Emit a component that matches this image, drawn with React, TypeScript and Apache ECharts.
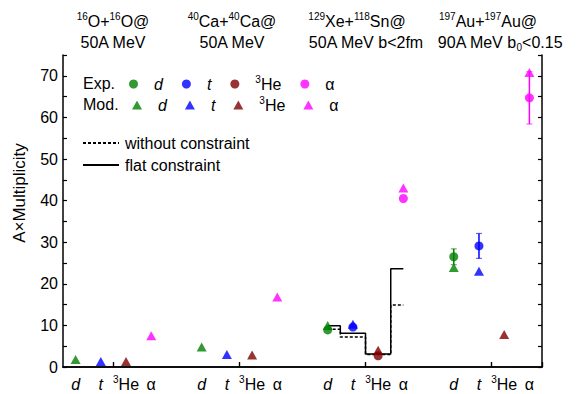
import React, { useEffect, useRef } from 'react';
import * as echarts from 'echarts';

const FONT = '"Liberation Sans", Arial, Helvetica, sans-serif';

// 19 category slots: 4 reaction systems x 4 species, separated by empty slots
const categories = ['d', 't', '3He', 'α', '', 'd', 't', '3He', 'α', '', 'd', 't', '3He', 'α', '', 'd', 't', '3He', 'α'];
const groupStart = [0, 5, 10, 15];
const tickSlots = [2, 7, 12, 17];

// Top labels (reaction systems)
const reactionLine1 = [
  '{s|16}{n|O+}{s|16}{n|O@}',
  '{s|40}{n|Ca+}{s|40}{n|Ca@}',
  '{s|129}{n|Xe+}{s|118}{n|Sn@}',
  '{s|197}{n|Au+}{s|197}{n|Au@}',
];
const reactionLine2 = ['{n|50A MeV}', '{n|50A MeV}', '{n|50A MeV b<2fm}', '{n|90A MeV b}{b|0}{n|<0.15}'];

// Model values per system (O+O, Ca+Ca, Xe+Sn, Au+Au)
const modD = [1.8, 4.8, 10.0, 23.9];
const modT = [1.3, 3.0, 10.3, 23.0];
const modHe3 = [1.3, 2.9, 4.0, 7.8];
const modAlpha = [7.5, 16.8, 43.0, 70.8];

// Experimental values per system
const expD = [null, null, 8.9, 26.5];
const expT = [null, null, 9.6, 29.1];
const expHe3 = [null, null, 2.7, null];
const expAlpha = [null, null, 40.5, 64.7];
const expDErr = [null, null, null, 1.9];
const expTErr = [null, null, null, 3.0];
const expAlphaErr = [null, null, null, 6.3];

// Step curves for Xe+Sn (d, t, 3He, α)
const flatConstraint = [9.9, 8.1, 3.1, 23.6];
const withoutConstraint = [9.1, 7.2, 3.0, 14.9];

const GREEN = '#008000';
const BLUE = '#0000ff';
const MAROON = '#800000';
const MAGENTA = '#ff00ff';

function pts(values: (number | null)[], sp: number) {
  const out: number[][] = [];
  values.forEach((v, g) => {
    if (v != null) out.push([groupStart[g] + sp, v]);
  });
  return out;
}

function errs(values: (number | null)[], errors: (number | null)[], sp: number, color: string) {
  const out: any[] = [];
  values.forEach((v, g) => {
    const e = errors[g];
    if (v != null && e != null) out.push({ value: [groupStart[g] + sp, v - e, v + e], itemStyle: { color } });
  });
  return out;
}

const richBase = {
  n: { fontSize: 16, fontFamily: FONT, color: '#000', lineHeight: 20 },
  it: { fontSize: 16, fontFamily: FONT, color: '#000', fontStyle: 'italic', lineHeight: 20 },
  s: { fontSize: 10, fontFamily: FONT, color: '#000', verticalAlign: 'top', lineHeight: 12 },
  b: { fontSize: 10, fontFamily: FONT, color: '#000', verticalAlign: 'bottom', lineHeight: 10 },
};

function speciesRich(name: string) {
  if (name === 'd' || name === 't') return '{it|' + name + '}';
  if (name === '3He') return '{s|3}{n|He}';
  if (name === 'α') return '{n|α}';
  return '';
}

export default function App() {
  const ref = useRef<HTMLDivElement>(null);
  useEffect(() => {
    const chart = echarts.init(ref.current!, null, { renderer: 'svg' });
    const axisLineStyle = { color: '#000', width: 1.5 };
    const yAxisCommon = {
      type: 'value',
      min: 0,
      max: 75,
      interval: 5,
      splitLine: { show: false },
      axisLine: { show: true, lineStyle: axisLineStyle },
      axisTick: { show: true, inside: true, length: 4, lineStyle: { color: '#000', width: 1.2 } },
    };
    const tickFn = (i: number) => tickSlots.indexOf(i) >= 0;

    const scatter = (name: string, data: number[][], color: string, symbol: string, size: any, z: number) => ({
      name,
      type: 'scatter',
      data,
      symbol,
      symbolSize: size,
      itemStyle: { color },
      z,
    });

    const option: any = {
      animation: false,
      grid: { left: 63, right: 40, top: 55, bottom: 27 },
      xAxis: [
        {
          type: 'category',
          data: categories,
          boundaryGap: true,
          axisLine: { show: true, lineStyle: axisLineStyle },
          axisTick: { show: true, inside: true, length: 5, interval: tickFn, lineStyle: { color: '#000', width: 1.2 } },
          axisLabel: {
            interval: 0,
            margin: 7,
            formatter: (v: string) => speciesRich(v),
            rich: richBase,
          },
          splitLine: { show: false },
        },
        {
          type: 'category',
          data: categories,
          position: 'top',
          boundaryGap: true,
          axisLine: { show: true, lineStyle: axisLineStyle },
          axisTick: { show: true, inside: false, length: 5, interval: tickFn, lineStyle: { color: '#000', width: 1.2 } },
          axisLabel: { show: false },
          splitLine: { show: false },
        },
      ],
      yAxis: [
        {
          ...yAxisCommon,
          axisLabel: {
            margin: 5,
            fontSize: 16,
            fontFamily: FONT,
            color: '#000',
            formatter: (v: number) => (v % 10 === 0 ? String(v) : ''),
          },
        },
        { ...yAxisCommon, position: 'right', axisLabel: { show: false } },
      ],
      legend: [
        {
          data: [
            { name: 'Exp. d', icon: 'circle' },
            { name: 'Exp. t', icon: 'circle' },
            { name: 'Exp. 3He', icon: 'circle' },
            { name: 'Exp. α', icon: 'circle' },
          ],
          left: 129,
          top: 74,
          padding: 0,
          itemWidth: 9,
          itemHeight: 9,
          itemGap: 19,
          selectedMode: false,
          formatter: (n: string) => speciesRich(n.split(' ')[1]),
          textStyle: { padding: [0, 0, 0, 11], rich: richBase },
        },
        {
          data: [
            { name: 'Mod. d', icon: 'triangle' },
            { name: 'Mod. t', icon: 'triangle' },
            { name: 'Mod. 3He', icon: 'triangle' },
            { name: 'Mod. α', icon: 'triangle' },
          ],
          left: 132,
          top: 95,
          padding: 0,
          itemWidth: 10,
          itemHeight: 9,
          itemGap: 18,
          selectedMode: false,
          formatter: (n: string) => speciesRich(n.split(' ')[1]),
          textStyle: { padding: [0, 0, 0, 11], rich: richBase },
        },
        {
          data: ['without constraint', 'flat constraint'],
          orient: 'vertical',
          left: 82,
          top: 135,
          padding: 0,
          itemWidth: 36,
          itemHeight: 14,
          itemGap: 6,
          selectedMode: false,
          itemStyle: { opacity: 0 },
          textStyle: { fontSize: 16, fontFamily: FONT, color: '#000', padding: [0, 0, 0, 1] },
        },
      ],
      graphic: [
        { type: 'text', x: 83, y: 83, style: { text: 'Exp.', font: '16px ' + FONT, fill: '#000', verticalAlign: 'middle' } },
        { type: 'text', x: 83, y: 104, style: { text: 'Mod.', font: '16px ' + FONT, fill: '#000', verticalAlign: 'middle' } },
        {
          type: 'text',
          x: 19,
          y: 193,
          rotation: Math.PI / 2,
          style: { text: 'A×Multiplicity', font: '17px ' + FONT, fill: '#000', align: 'center', verticalAlign: 'middle' },
        },
        ...[113, 232, 357, 488].map((x, i) => ({
          type: 'text',
          x,
          y: 21,
          style: { text: reactionLine1[i], rich: richBase, align: 'center', verticalAlign: 'middle' },
        })),
        ...[113, 232, 366, 500].map((x, i) => ({
          type: 'text',
          x,
          y: 42,
          style: { text: reactionLine2[i], rich: richBase, align: 'center', verticalAlign: 'middle' },
        })),
      ],
      series: [
        {
          name: 'errors',
          type: 'custom',
          encode: { x: 0, y: [1, 2] },
          data: [
            ...errs(expD, expDErr, 0, GREEN),
            ...errs(expT, expTErr, 1, BLUE),
            ...errs(expAlpha, expAlphaErr, 3, MAGENTA),
          ],
          z: 1,
          renderItem: (params: any, api: any) => {
            const x = api.value(0);
            const lo = api.coord([x, api.value(1)]);
            const hi = api.coord([x, api.value(2)]);
            const color = api.visual('color');
            const w = 3;
            return {
              type: 'group',
              children: [
                { type: 'line', shape: { x1: lo[0], y1: lo[1], x2: hi[0], y2: hi[1] }, style: { stroke: color, lineWidth: 1.5 } },
                { type: 'line', shape: { x1: lo[0] - w, y1: lo[1], x2: lo[0] + w, y2: lo[1] }, style: { stroke: color, lineWidth: 1.2, opacity: 0.6 } },
                { type: 'line', shape: { x1: hi[0] - w, y1: hi[1], x2: hi[0] + w, y2: hi[1] }, style: { stroke: color, lineWidth: 1.2, opacity: 0.6 } },
              ],
            };
          },
        },
        {
          name: 'without constraint',
          type: 'line',
          step: 'middle',
          symbol: 'none',
          data: withoutConstraint.map((v, i) => [groupStart[2] + i, v]),
          lineStyle: { color: '#000', width: 1.5, type: [3, 2] },
          itemStyle: { color: '#000' },
          z: 2,
        },
        {
          name: 'flat constraint',
          type: 'line',
          step: 'middle',
          symbol: 'none',
          data: flatConstraint.map((v, i) => [groupStart[2] + i, v]),
          lineStyle: { color: '#000', width: 1.5, type: 'solid' },
          itemStyle: { color: '#000' },
          z: 2,
        },
        scatter('Mod. d', pts(modD, 0), GREEN, 'triangle', [10, 9], 3),
        scatter('Mod. t', pts(modT, 1), BLUE, 'triangle', [10, 9], 3),
        scatter('Mod. 3He', pts(modHe3, 2), MAROON, 'triangle', [10, 9], 3),
        scatter('Mod. α', pts(modAlpha, 3), MAGENTA, 'triangle', [10, 9], 3),
        scatter('Exp. d', pts(expD, 0), GREEN, 'circle', 9, 4),
        scatter('Exp. t', pts(expT, 1), BLUE, 'circle', 9, 4),
        scatter('Exp. 3He', pts(expHe3, 2), MAROON, 'circle', 9, 4),
        scatter('Exp. α', pts(expAlpha, 3), MAGENTA, 'circle', 9, 4),
      ],
    };
    chart.setOption(option);
    return () => chart.dispose();
  }, []);
  return <div ref={ref} style={{ position: 'fixed', left: 0, top: 0, width: 582, height: 394, background: '#fff' }} />;
}
